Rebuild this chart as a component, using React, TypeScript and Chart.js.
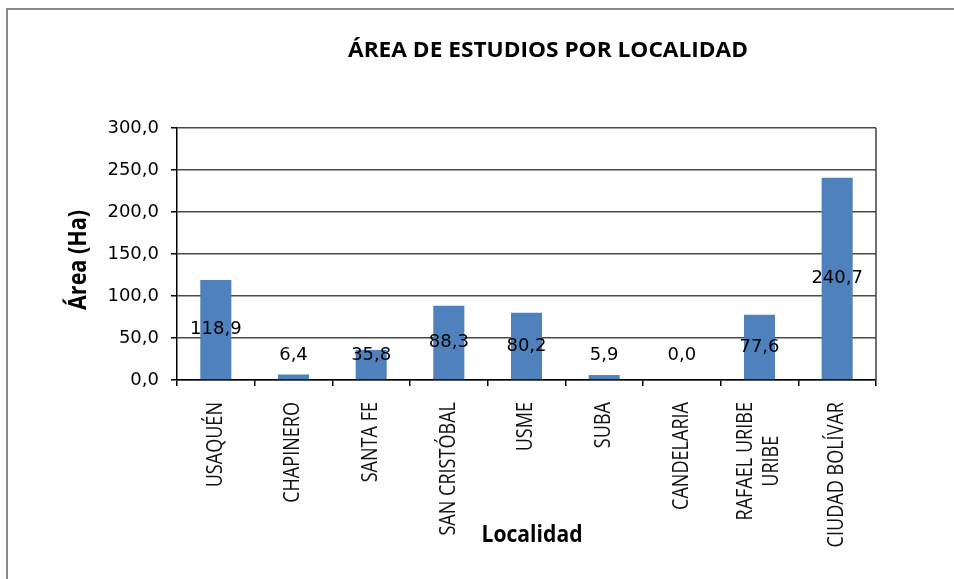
import React, { useEffect, useRef } from 'react';
import { Chart, registerables } from 'chart.js';

Chart.register(...registerables);

const TITLE = 'ÁREA DE ESTUDIOS POR LOCALIDAD';
const Y_TITLE = 'Área (Ha)';
const X_TITLE = 'Localidad';
const categories: (string | string[])[] = [
  'USAQUÉN',
  'CHAPINERO',
  'SANTA FE',
  'SAN CRISTÓBAL',
  'USME',
  'SUBA',
  'CANDELARIA',
  ['RAFAEL URIBE', 'URIBE'],
  'CIUDAD BOLÍVAR',
];
const values = [118.9, 6.4, 35.8, 88.3, 80.2, 5.9, 0.0, 77.6, 240.7];
const Y_MIN = 0;
const Y_MAX = 300;
const Y_STEP = 50;

const fmt = (v: number) => v.toFixed(1).replace('.', ',');

function drawFitted(
  ctx: CanvasRenderingContext2D,
  text: string,
  x: number,
  y: number,
  font: string,
  target: number,
  rotate: boolean
) {
  ctx.save();
  ctx.font = font;
  const w = ctx.measureText(text).width;
  ctx.translate(x, y);
  if (rotate) ctx.rotate(-Math.PI / 2);
  ctx.scale(target / w, 1);
  ctx.textAlign = 'center';
  ctx.textBaseline = 'middle';
  ctx.fillStyle = '#000';
  ctx.fillText(text, 0, 0);
  ctx.restore();
}

const overlay = {
  id: 'overlay',
  afterDraw(chart: any) {
    const { ctx, chartArea: a, scales } = chart;
    const x = scales.x;
    ctx.save();
    // outer frame
    ctx.strokeStyle = '#8a8a8a';
    ctx.lineWidth = 2;
    ctx.beginPath();
    ctx.moveTo(7, 579);
    ctx.lineTo(7, 9);
    ctx.lineTo(954, 9);
    ctx.stroke();
    // plot right border
    ctx.strokeStyle = '#404040';
    ctx.lineWidth = 1.5;
    ctx.beginPath();
    ctx.moveTo(a.right, a.top);
    ctx.lineTo(a.right, a.bottom);
    ctx.stroke();

    // data labels
    const meta = chart.getDatasetMeta(0);
    ctx.font = '18px "DejaVu Sans"';
    ctx.fillStyle = '#000';
    ctx.textAlign = 'center';
    ctx.textBaseline = 'middle';
    meta.data.forEach((bar: any, i: number) => {
      const center = (bar.y + bar.base) / 2;
      const yy = Math.min(center, a.bottom - 25);
      ctx.fillText(fmt(values[i]), bar.x, yy);
    });

    // x category labels (vertical)
    const labFont = '21px "Open Sans"';
    const sx = 0.86;
    ctx.font = labFont;
    ctx.fillStyle = '#111';
    const top = a.bottom + 22;
    const lh = 26;
    categories.forEach((c, i) => {
      const lines = Array.isArray(c) ? c : [c];
      const cx = x.getPixelForValue(i);
      const maxW = Math.max(...lines.map((l) => ctx.measureText(l).width)) * sx;
      const cy = top + maxW / 2;
      lines.forEach((ln, j) => {
        const lx = cx + (j - (lines.length - 1) / 2) * lh;
        ctx.save();
        ctx.translate(lx, cy);
        ctx.rotate(-Math.PI / 2);
        ctx.scale(sx, 1);
        ctx.textAlign = 'center';
        ctx.textBaseline = 'middle';
        ctx.fillText(ln, 0, 0);
        ctx.restore();
      });
    });
    ctx.restore();

    // titles
    drawFitted(ctx, TITLE, 548, 51, 'bold 22px "Open Sans"', 400, false);
    drawFitted(ctx, Y_TITLE, 79, 260, 'bold 25px "Open Sans"', 100, true);
    drawFitted(ctx, X_TITLE, 532, 535, 'bold 23px "Open Sans"', 101, false);
  },
};

export default function App() {
  const ref = useRef<HTMLCanvasElement | null>(null);
  useEffect(() => {
    if (!ref.current) return;
    const chart = new Chart(ref.current, {
      type: 'bar',
      data: {
        labels: categories.map((c) => (Array.isArray(c) ? c.join(' ') : c)),
        datasets: [
          {
            data: values,
            backgroundColor: '#4F81BD',
            borderWidth: 0,
            barPercentage: 0.4,
            categoryPercentage: 1,
          },
        ],
      },
      options: {
        responsive: false,
        animation: false,
        devicePixelRatio: 1,
        layout: { padding: { top: 128, right: 78, left: 0, bottom: 0 } },
        plugins: { legend: { display: false }, tooltip: { enabled: false }, title: { display: false } },
        scales: {
          x: {
            afterFit: (s: any) => {
              s.height = 199;
            },
            ticks: { display: false },
            grid: {
              display: true,
              drawOnChartArea: false,
              drawTicks: true,
              tickLength: 6,
              tickColor: '#000',
              offset: true,
              lineWidth: 1.5,
            },
            border: { color: '#000', width: 1.5 },
          },
          y: {
            min: Y_MIN,
            max: Y_MAX,
            afterFit: (s: any) => {
              s.width = 177;
            },
            ticks: {
              stepSize: Y_STEP,
              padding: 12,
              color: '#000',
              font: { family: 'DejaVu Sans', size: 18 },
              callback: (v: any) => fmt(Number(v)),
            },
            grid: { color: '#4a4a4a', lineWidth: 1.5, tickLength: 6, tickColor: '#000' },
            border: { color: '#000', width: 1.5 },
          },
        },
      },
      plugins: [overlay],
    });
    return () => chart.destroy();
  }, []);
  return (
    <div style={{ position: 'absolute', left: 0, top: 0, width: 954, height: 579, background: '#fff' }}>
      <canvas ref={ref} width={954} height={579} style={{ display: 'block', width: 954, height: 579 }} />
    </div>
  );
}
